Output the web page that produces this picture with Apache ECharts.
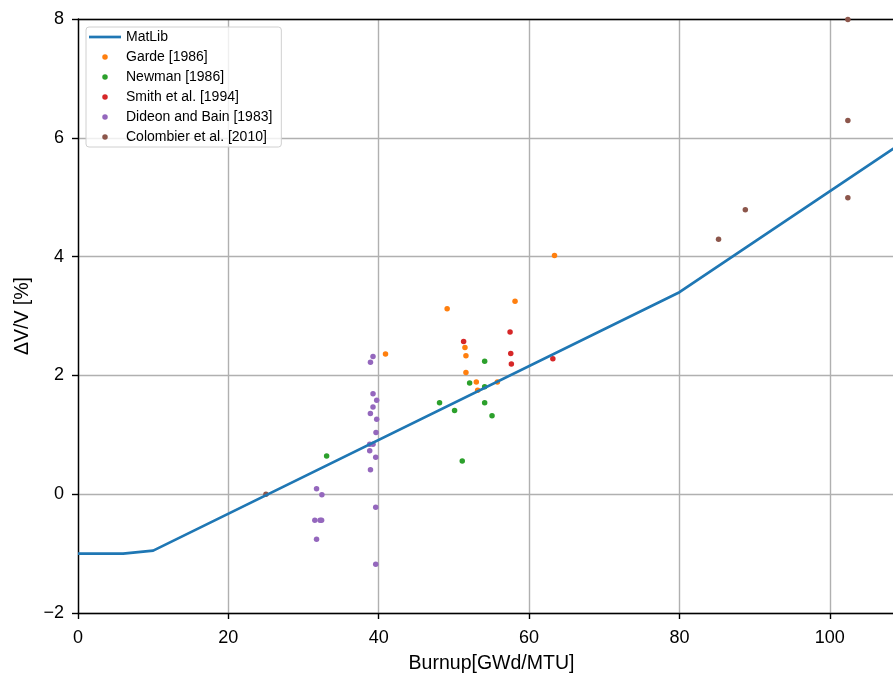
<!DOCTYPE html>
<html><head><meta charset="utf-8">
<script src="https://cdn.jsdelivr.net/npm/echarts@6/dist/echarts.min.js"></script>
<style>html,body{margin:0;padding:0;background:#fff;overflow:hidden}#c{width:893px;height:673px}</style>
</head><body><div id="c"></div>
<script>
const matlibX = [0, 6, 10, 80, 110];
const matlibY = [-1, -1, -0.95, 3.4, 5.95];
const gardeX = [40.9, 49.1, 51.47, 51.6, 51.6, 52.98, 53.16, 55.78, 58.13, 63.38];
const gardeY = [2.36, 3.12, 2.47, 2.33, 2.05, 1.89, 1.75, 1.89, 3.25, 4.02];
const newmanX = [33.07, 48.09, 50.09, 51.11, 52.09, 54.09, 54.09, 54.09, 55.07];
const newmanY = [0.645, 1.54, 1.41, 0.56, 1.87, 2.24, 1.81, 1.54, 1.32];
const smithX = [51.29, 57.47, 57.56, 57.64, 63.16];
const smithY = [2.57, 2.73, 2.37, 2.19, 2.28];
const dideonX = [39.24, 38.9, 39.24, 39.73, 39.24, 38.89, 39.73, 39.64, 38.8, 39.24, 38.8, 39.6, 38.9, 31.73, 32.44, 39.6, 31.5, 32.2, 32.4, 31.73, 39.6];
const dideonY = [2.32, 2.22, 1.69, 1.58, 1.47, 1.36, 1.26, 1.04, 0.84, 0.84, 0.73, 0.62, 0.41, 0.09, -0.01, -0.22, -0.44, -0.44, -0.44, -0.76, -1.18];
const colombierX = [25, 85.2, 88.76, 102.4, 102.4, 102.4];
const colombierY = [0, 4.29, 4.79, 4.99, 6.29, 7.99];
const xTicks = [0, 20, 40, 60, 80, 100];
const yTicks = [-2, 0, 2, 4, 6, 8];

const zip = (a, b) => a.map((v, i) => [v, b[i]]);
const font = 'Liberation Sans, Arial, sans-serif';
const fmt = v => String(v).replace('-', '\u2212');
const scat = (name, xs, ys, color) => ({
  name, type: 'scatter', data: zip(xs, ys), symbolSize: 5.5, z: 2,
  itemStyle: { color, opacity: 1 }, emphasis: { disabled: true }
});

const chart = echarts.init(document.getElementById('c'), null, { renderer: 'canvas' });
chart.setOption({
  animation: false,
  backgroundColor: '#fff',
  grid: { left: 78, top: 19, width: 827, height: 594, containLabel: false, outerBoundsMode: 'none' },
  legend: {
    orient: 'vertical', left: 86, top: 27,
    padding: [3, 9, 3, 3], itemGap: 6, itemWidth: 32, itemHeight: 5.5, itemTextGap: 12,
    backgroundColor: 'rgba(255,255,255,0.8)', borderColor: '#d0d0d0', borderWidth: 1, borderRadius: 3,
    textStyle: { fontFamily: font, fontSize: 14, color: '#000' },
    data: [
      { name: 'MatLib', icon: 'path://M0,0H64V5.4H0Z' },
      { name: 'Garde [1986]', icon: 'circle' },
      { name: 'Newman [1986]', icon: 'circle' },
      { name: 'Smith et al. [1994]', icon: 'circle' },
      { name: 'Dideon and Bain [1983]', icon: 'circle' },
      { name: 'Colombier et al. [2010]', icon: 'circle' }
    ]
  },
  xAxis: [{
    type: 'value', min: 0, max: 110, interval: 20,
    name: 'Burnup[GWd/MTU]', nameLocation: 'middle', nameGap: 41,
    nameTextStyle: { fontFamily: font, fontSize: 19.5, color: '#000' },
    axisLine: { show: true, onZero: false, lineStyle: { color: '#000', width: 1.4 } },
    axisTick: { show: true, inside: false, length: 6, lineStyle: { color: '#000', width: 1.4 } },
    axisLabel: { fontFamily: font, fontSize: 18, color: '#000', margin: 16, showMaxLabel: false, formatter: fmt },
    splitLine: { show: true, lineStyle: { color: '#b0b0b0', width: 1.4 } }
  }, {
    type: 'value', position: 'top', min: 0, max: 110,
    axisLine: { show: true, onZero: false, lineStyle: { color: '#000', width: 1.4 } },
    axisTick: { show: false }, axisLabel: { show: false }, splitLine: { show: false }
  }],
  yAxis: {
    type: 'value', min: -2, max: 8, interval: 2,
    name: 'ΔV/V [%]', nameLocation: 'middle', nameGap: 42, nameRotate: 90,
    nameTextStyle: { fontFamily: font, fontSize: 19.5, color: '#000' },
    axisLine: { show: true, onZero: false, lineStyle: { color: '#000', width: 1.4 } },
    axisTick: { show: true, inside: false, length: 6, lineStyle: { color: '#000', width: 1.4 } },
    axisLabel: { fontFamily: font, fontSize: 18, color: '#000', margin: 14, formatter: fmt },
    splitLine: { show: true, lineStyle: { color: '#b0b0b0', width: 1.4 } }
  },
  series: [
    {
      name: 'MatLib', type: 'line', data: zip(matlibX, matlibY), showSymbol: false, symbol: 'none', z: 3,
      lineStyle: { color: '#1f77b4', width: 2.7 }, itemStyle: { color: '#1f77b4' }, emphasis: { disabled: true }
    },
    scat('Garde [1986]', gardeX, gardeY, '#ff7f0e'),
    scat('Newman [1986]', newmanX, newmanY, '#2ca02c'),
    scat('Smith et al. [1994]', smithX, smithY, '#d62728'),
    scat('Dideon and Bain [1983]', dideonX, dideonY, '#9467bd'),
    scat('Colombier et al. [2010]', colombierX, colombierY, '#8c564b')
  ]
});
</script></body></html>
